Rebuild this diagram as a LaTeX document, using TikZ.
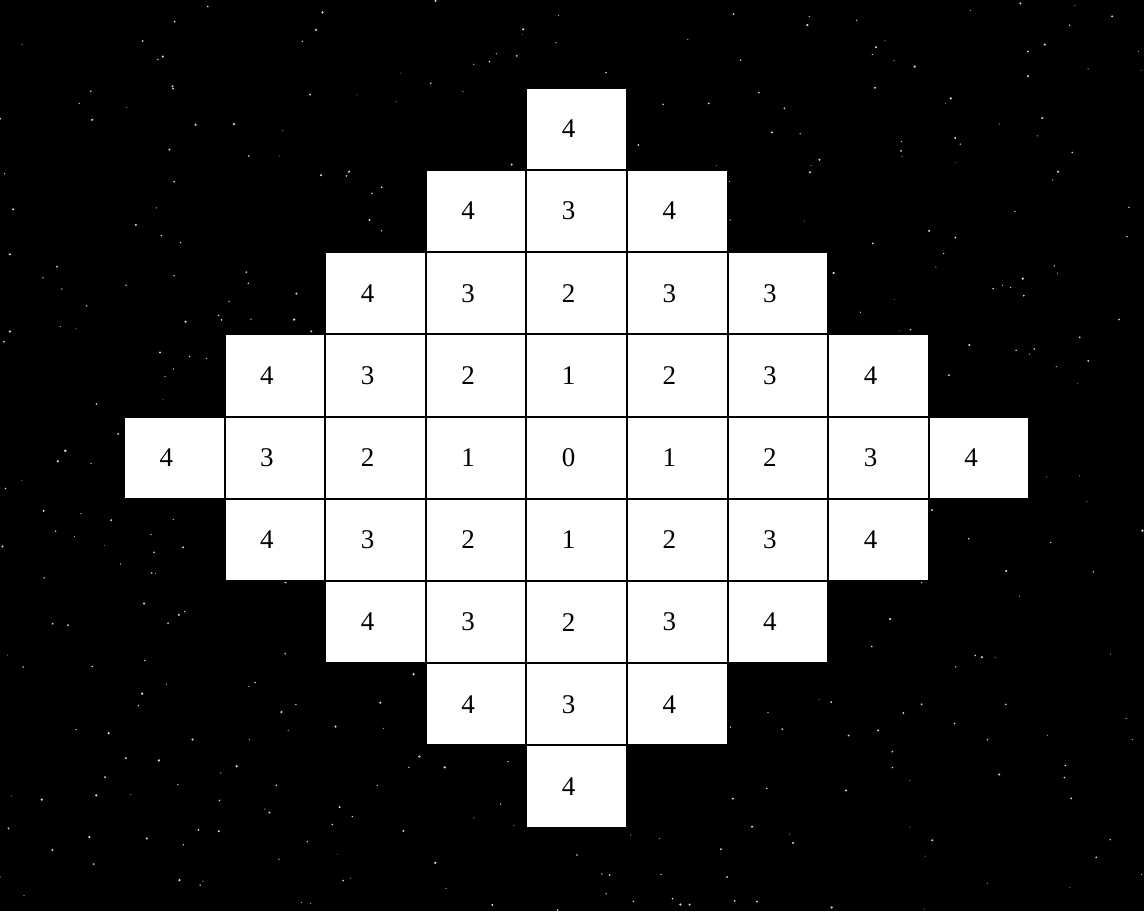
\documentclass[tikz,border=0pt]{standalone}
\usepackage{fontspec}
\setmainfont{Liberation Serif}
\begin{document}
\begin{tikzpicture}[x=1pt,y=1pt,
  cell/.style={draw=black,fill=white,line width=2pt,minimum width=100.6pt,minimum height=82.2pt,inner sep=0pt,outer sep=0pt},
  num/.style={font=\fontsize{27}{32}\selectfont,inner sep=0pt,text=black}]
\fill[black] (0,0) rectangle (1144,-911);
\useasboundingbox (0,0) rectangle (1144,-911);
\pgfmathsetseed{7}
\foreach \s in {1,...,500}{
  \pgfmathsetmacro\px{rnd*1144}
  \pgfmathsetmacro\py{-rnd*911}
  \pgfmathsetmacro\pr{0.4+rnd*0.9}
  \fill[white!85!black] (\px,\py) circle (\pr);
}
\foreach \r/\vals in {0/{4},1/{4,3,4},2/{4,3,2,3,3},3/{4,3,2,1,2,3,4},4/{4,3,2,1,0,1,2,3,4},5/{4,3,2,1,2,3,4},6/{4,3,2,3,4},7/{4,3,4},8/{4}}{
  \pgfmathtruncatemacro\h{4-abs(\r-4)}
  \foreach \v [count=\k from 0] in \vals {
    \pgfmathtruncatemacro\c{4-\h+\k}
    \node[cell] (c\r-\c) at ({174.3+100.6*\c},{-(128.9+82.2*\r)}) {};
    \node[num] (t\r-\c) at ([xshift=-8pt]c\r-\c.center) {\v};
  }
}
\end{tikzpicture}
\end{document}
